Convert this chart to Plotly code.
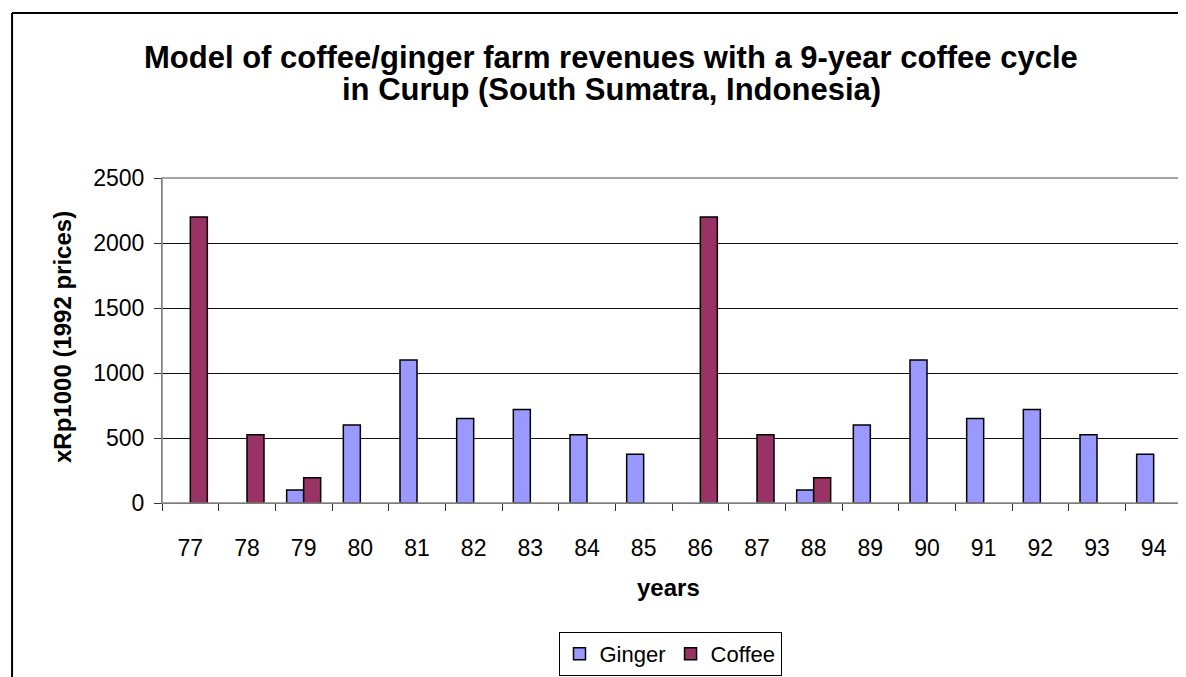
import plotly.graph_objects as go

# Years (two-digit labels) and revenues in xRp1000 (1992 prices)
years = ['77', '78', '79', '80', '81', '82', '83', '84', '85',
         '86', '87', '88', '89', '90', '91', '92', '93', '94']
ginger = [None, None, 100, 600, 1100, 650, 720, 525, 375,
          None, None, 100, 600, 1100, 650, 720, 525, 375]
coffee = [2200, 525, 195, None, None, None, None, None, None,
          2200, 525, 195, None, None, None, None, None, None]
y_ticks = [0, 500, 1000, 1500, 2000, 2500]

FONT = 'Liberation Sans, Arial, sans-serif'

fig = go.Figure()
fig.add_trace(go.Bar(x=years, y=ginger, name='Ginger',
                     marker=dict(color='#9999FF', line=dict(color='black', width=1.5))))
fig.add_trace(go.Bar(x=years, y=coffee, name='Coffee',
                     marker=dict(color='#993366', line=dict(color='black', width=1.5))))

# the page body adds an 8px offset, so margins are shifted by -8
fig.update_layout(
    width=1186, height=677,
    margin=dict(l=154, r=12, t=170, b=182),
    paper_bgcolor='white', plot_bgcolor='white',
    font=dict(family=FONT, color='black', size=23),
    barmode='group', bargap=0.4, bargroupgap=0,
    showlegend=True,
    legend=dict(orientation='h', xref='container', x=(670 - 8) / 1186, xanchor='center',
                yref='container', y=1 - (632 - 8) / 677, yanchor='top',
                bordercolor='black', borderwidth=1, bgcolor='white',
                font=dict(size=22), itemwidth=30),
)

fig.update_xaxes(
    type='category', tickson='boundaries', ticks='outside', ticklen=7,
    tickcolor='#333', showline=True, linecolor='#555', linewidth=1,
    showgrid=False, ticklabelstandoff=24, tickfont=dict(size=23),
)
fig.update_yaxes(
    range=[0, 2500], tickvals=y_ticks, ticks='outside', ticklen=7,
    tickcolor='#333', showline=True, linecolor='#666', linewidth=1,
    gridcolor='#111', gridwidth=1, zeroline=False,
    ticklabelstandoff=5, tickfont=dict(size=23),
)

# plot-area border (top and right) in grey
fig.add_shape(type='rect', xref='paper', yref='paper', x0=0, y0=0, x1=1, y1=1,
              line=dict(color='#888', width=1.5), layer='above')
# outer frame (top and left edges visible)
fig.add_shape(type='line', xref='paper', yref='paper', x0=-0.147, y0=-1, x1=-0.147, y1=1.508,
              line=dict(color='black', width=2))
fig.add_shape(type='line', xref='paper', yref='paper', x0=-0.147, y0=1.508, x1=1.1, y1=1.508,
              line=dict(color='black', width=2))

# two-line title
fig.add_annotation(text='<b>Model of coffee/ginger farm revenues with a 9-year coffee cycle</b>',
                   xref='paper', yref='paper', x=(611 - 162) / 1020, y=(503 - 57) / 325,
                   showarrow=False, font=dict(size=31), xanchor='center', yanchor='middle')
fig.add_annotation(text='<b>in Curup (South Sumatra, Indonesia)</b>',
                   xref='paper', yref='paper', x=(611 - 162) / 1020, y=(503 - 90) / 325,
                   showarrow=False, font=dict(size=31), xanchor='center', yanchor='middle')

# axis titles
fig.add_annotation(text='<b>years</b>', xref='paper', yref='paper',
                   x=(668 - 162) / 1020, y=(503 - 587) / 325,
                   showarrow=False, font=dict(size=24), xanchor='center', yanchor='middle')
fig.add_annotation(text='<b>xRp1000 (1992 prices)</b>', xref='paper', yref='paper',
                   x=(62 - 162) / 1020, y=(503 - 337) / 325, textangle=-90,
                   showarrow=False, font=dict(size=24), xanchor='center', yanchor='middle')

fig.write_html('out.html')
